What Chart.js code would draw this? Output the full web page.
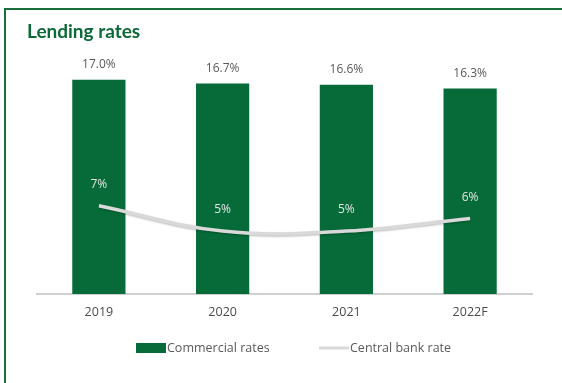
<!DOCTYPE html>
<html>
<head>
<meta charset="utf-8">
<script src="https://cdn.jsdelivr.net/npm/chart.js@4"></script>
<style>
  html, body { margin: 0; padding: 0; background: #fff; }
  body { width: 562px; height: 383px; overflow: hidden; position: relative; }
  #frame {
    position: absolute; left: 4px; top: 8px; width: 556px; height: 373px;
    border-top: 2px solid #1a6e3c; border-left: 2px solid #1a6e3c;
  }
  #title {
    position: absolute; left: 21px; top: 9px; margin: 0;
    font: bold 19px Lato, "Open Sans", sans-serif; color: #0b6a37;
  }
  #wrap { position: absolute; left: 0; top: 0; width: 556px; height: 373px; }
</style>
</head>
<body>
<div id="frame">
  <div id="wrap"><canvas id="lendingChart"></canvas></div>
  <h1 id="title">Lending rates</h1>
</div>
<script>
// Data
const years = ['2019', '2020', '2021', '2022F'];
const commercialRates = [17.0, 16.7, 16.6, 16.3];
const centralBankRate = [7, 5, 5, 6];

const green = '#066b38';
const lineGrey = '#d9d9d9';
const textGrey = '#595959';

// value labels above bars and above line points
const valueLabels = {
  id: 'valueLabels',
  afterDatasetsDraw(chart) {
    const ctx = chart.ctx;
    ctx.save();
    ctx.font = '12px "Open Sans", sans-serif';
    ctx.textAlign = 'center';
    ctx.textBaseline = 'middle';
    chart.data.datasets.forEach((ds, i) => {
      const meta = chart.getDatasetMeta(i);
      meta.data.forEach((el, j) => {
        if (ds.type === 'bar') {
          ctx.fillStyle = textGrey;
          ctx.fillText(ds.data[j].toFixed(1) + '%', el.x, el.y - 15);
        } else {
          ctx.fillStyle = '#e6e6e6';
          ctx.fillText(ds.data[j] + '%', el.x, el.y - 21);
        }
      });
    });
    ctx.restore();
  }
};

// legend drawn at the bottom
const bottomLegend = {
  id: 'bottomLegend',
  afterDraw(chart) {
    const ctx = chart.ctx;
    const y = 338;
    ctx.save();
    ctx.font = '12.5px "Open Sans", sans-serif';
    ctx.textBaseline = 'middle';
    ctx.fillStyle = green;
    ctx.fillRect(130, y - 5, 30, 10);
    ctx.fillStyle = textGrey;
    ctx.fillText(chart.data.datasets[0].label, 161, y);
    ctx.strokeStyle = lineGrey;
    ctx.lineWidth = 3;
    ctx.beginPath();
    ctx.moveTo(313, y);
    ctx.lineTo(343, y);
    ctx.stroke();
    ctx.fillText(chart.data.datasets[1].label, 344, y);
    ctx.restore();
  }
};

// soft shadow under the line
const lineShadow = {
  id: 'lineShadow',
  beforeDatasetDraw(chart, args) {
    if (args.meta.type === 'line') {
      chart.ctx.save();
      chart.ctx.shadowColor = 'rgba(0,0,0,0.25)';
      chart.ctx.shadowBlur = 2;
      chart.ctx.shadowOffsetY = 1;
    }
  },
  afterDatasetDraw(chart, args) {
    if (args.meta.type === 'line') chart.ctx.restore();
  }
};

new Chart(document.getElementById('lendingChart'), {
  data: {
    labels: years,
    datasets: [
      {
        type: 'bar',
        label: 'Commercial rates',
        data: commercialRates,
        backgroundColor: green,
        categoryPercentage: 1,
        barPercentage: 0.43,
        order: 2
      },
      {
        type: 'line',
        label: 'Central bank rate',
        data: centralBankRate,
        borderColor: lineGrey,
        borderWidth: 3.5,
        pointRadius: 0,
        tension: 0.4,
        fill: false,
        order: 1
      }
    ]
  },
  options: {
    responsive: true,
    maintainAspectRatio: false,
    animation: false,
    layout: { padding: { top: 32, left: 31, right: 30, bottom: 52 } },
    plugins: {
      legend: { display: false },
      tooltip: { enabled: false }
    },
    scales: {
      x: {
        grid: { display: false, drawTicks: false },
        border: { display: true, color: '#d0d0d0', width: 2 },
        ticks: { color: '#4a4a4a', padding: 11, font: { family: '"Open Sans", sans-serif', size: 12.5 } }
      },
      y: {
        display: false,
        min: 0,
        max: 20
      }
    }
  },
  plugins: [valueLabels, bottomLegend, lineShadow]
});
</script>
</body>
</html>
